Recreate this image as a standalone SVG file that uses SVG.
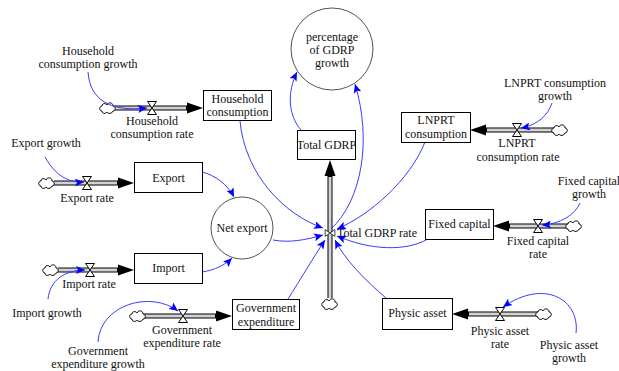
<svg xmlns="http://www.w3.org/2000/svg" width="619" height="371" viewBox="0 0 619 371">
  <style>
    text { font-family: "Liberation Serif", "Times New Roman", serif; font-size: 12px; fill: #111; text-anchor: middle; }
    .box { fill: #fff; stroke: #000; stroke-width: 1; }
    .aux { fill: #fff; stroke: #555; stroke-width: 1; }
    .pipe { fill: none; stroke: #000; stroke-width: 5; }
    .core { fill: none; stroke: #d2d2d2; stroke-width: 3; }
    .head { fill: #000; }
    .link { fill: none; stroke: #3b3bff; stroke-width: 1; marker-end: url(#blue); }
    .valve { fill: #fff; stroke: #000; stroke-width: 1; }
    .cloud { fill: #fff; stroke: #000; stroke-width: 1; }
  </style>
  <defs>
    <marker id="blue" markerUnits="userSpaceOnUse" markerWidth="10" markerHeight="8" refX="9" refY="4" orient="auto">
      <path d="M0,0 L9,4 L0,8 L2,4 Z" fill="#0000ff"/>
    </marker>
    <path id="cloud" class="cloud" d="M-6,3 C-9,3 -9,-2 -6,-2 C-6,-5 -2,-5 -1,-3 C0,-6 5,-6 5,-2 C8,-2 8,3 5,3 C4,6 0,6 -1,4 C-2,6 -6,6 -6,3 Z"/>
    <path id="valve" class="valve" d="M-4.5,-6.5 L4.5,-6.5 L-4.5,6.5 L4.5,6.5 Z"/>
  </defs>

  <!-- material flows: pipes, heads, clouds and valves -->
  <g id="flows">
    <!-- household consumption rate -->
    <line class="pipe" x1="114" y1="108" x2="188" y2="108"/>
    <line class="core" x1="114" y1="108" x2="186" y2="108"/>
    <polygon class="head" points="187,102.5 203,108 187,113.5"/>
    <use href="#cloud" x="108" y="108"/>
    <!-- export rate -->
    <line class="pipe" x1="54" y1="183" x2="119" y2="183"/>
    <line class="core" x1="54" y1="183" x2="117" y2="183"/>
    <polygon class="head" points="118,177.5 134,183 118,188.5"/>
    <use href="#cloud" x="47" y="183"/>
    <!-- import rate -->
    <line class="pipe" x1="58" y1="270" x2="119" y2="270"/>
    <line class="core" x1="58" y1="270" x2="117" y2="270"/>
    <polygon class="head" points="118,264.5 134,270 118,275.5"/>
    <use href="#cloud" x="51" y="270"/>
    <!-- government expenditure rate -->
    <line class="pipe" x1="144" y1="316" x2="217" y2="316"/>
    <line class="core" x1="144" y1="316" x2="215" y2="316"/>
    <polygon class="head" points="216,310.5 232,316 216,321.5"/>
    <use href="#cloud" x="138" y="316"/>
    <!-- LNPRT consumption rate -->
    <line class="pipe" x1="554" y1="130" x2="485" y2="130"/>
    <line class="core" x1="554" y1="130" x2="487" y2="130"/>
    <polygon class="head" points="486,124.5 470,130 486,135.5"/>
    <use href="#cloud" x="560" y="130"/>
    <!-- fixed capital rate -->
    <line class="pipe" x1="568" y1="226" x2="508" y2="226"/>
    <line class="core" x1="568" y1="226" x2="510" y2="226"/>
    <polygon class="head" points="509,220.5 493,226 509,231.5"/>
    <use href="#cloud" x="574" y="226"/>
    <!-- physic asset rate -->
    <line class="pipe" x1="538" y1="314" x2="467" y2="314"/>
    <line class="core" x1="538" y1="314" x2="469" y2="314"/>
    <polygon class="head" points="468,308.5 452,314 468,319.5"/>
    <use href="#cloud" x="544" y="314"/>
    <!-- total GDRP rate (vertical) -->
    <line class="pipe" x1="330" y1="298" x2="330" y2="175"/>
    <line class="core" x1="330" y1="298" x2="330" y2="177"/>
    <polygon class="head" points="324.5,176 330,160 335.5,176"/>
    <use href="#cloud" x="330" y="304"/>
  </g>

  <!-- information links -->
  <g id="connectors">
    <path class="link" d="M88,72 C90,100 110,112 147,108"/>
    <path class="link" d="M45,157 C55,175 68,183 84,182"/>
    <path class="link" d="M48,299 C50,280 65,270 85,270"/>
    <path class="link" d="M98,342 C100,305 150,290 178,311"/>
    <path class="link" d="M202,172 C215,175 228,185 234,197"/>
    <path class="link" d="M202,272 C215,270 225,265 232,258"/>
    <path class="link" d="M240,121 C245,175 285,215 323,228"/>
    <path class="link" d="M273,240 C290,243 305,240 323,235"/>
    <path class="link" d="M288,299 C300,280 315,255 325,240"/>
    <path class="link" d="M386,298 C365,280 345,260 335,240"/>
    <path class="link" d="M428,239 C405,252 370,250 337,236"/>
    <path class="link" d="M425,142 C410,180 370,215 337,229"/>
    <path class="link" d="M331,229 C362,200 372,140 355,84"/>
    <path class="link" d="M301,130 C288,115 287,92 297,72"/>
    <path class="link" d="M552,103 C548,115 538,125 521,128"/>
    <path class="link" d="M580,203 C575,215 560,224 542,225"/>
    <path class="link" d="M576,333 C580,300 545,278 503,307"/>
  </g>

  <!-- valves with their labels -->
  <g id="household-consumption-rate">
    <use href="#valve" x="152" y="108"/>
    <text x="152" y="125">Household</text>
    <text x="152" y="138">consumption rate</text>
  </g>
  <g id="export-rate">
    <use href="#valve" x="87" y="183"/>
    <text x="87" y="202">Export rate</text>
  </g>
  <g id="import-rate">
    <use href="#valve" x="90" y="270"/>
    <text x="89" y="288">Import rate</text>
  </g>
  <g id="government-expenditure-rate">
    <use href="#valve" x="183" y="316"/>
    <text x="182" y="334">Government</text>
    <text x="182" y="347">expenditure rate</text>
  </g>
  <g id="lnprt-consumption-rate">
    <use href="#valve" x="517" y="130"/>
    <text x="517" y="147">LNPRT</text>
    <text x="518" y="161">consumption rate</text>
  </g>
  <g id="fixed-capital-rate">
    <use href="#valve" x="538" y="226"/>
    <text x="538" y="245">Fixed capital</text>
    <text x="538" y="258">rate</text>
  </g>
  <g id="physic-asset-rate">
    <use href="#valve" x="500" y="314"/>
    <text x="500" y="335">Physic asset</text>
    <text x="500" y="348">rate</text>
  </g>
  <g id="total-gdrp-rate">
    <use href="#valve" transform="translate(330 233) rotate(90) scale(0.75)"/>
    <text x="337" y="237" style="text-anchor:start">Total GDRP rate</text>
  </g>

  <!-- stocks -->
  <g id="household-consumption">
    <rect class="box" x="203.5" y="90.5" width="68" height="30"/>
    <text x="237.5" y="103">Household</text>
    <text x="237.5" y="116">consumption</text>
  </g>
  <g id="export">
    <rect class="box" x="134.5" y="162.5" width="68" height="30"/>
    <text x="168.5" y="182">Export</text>
  </g>
  <g id="import">
    <rect class="box" x="134.5" y="253.5" width="68" height="30"/>
    <text x="168.5" y="272">Import</text>
  </g>
  <g id="government-expenditure">
    <rect class="box" x="232.5" y="299.5" width="67" height="30"/>
    <text x="266" y="312">Government</text>
    <text x="266" y="326">expenditure</text>
  </g>
  <g id="total-gdrp">
    <rect class="box" x="297.5" y="130.5" width="58" height="29"/>
    <text x="326.5" y="149">Total GDRP</text>
  </g>
  <g id="lnprt-consumption">
    <rect class="box" x="401.5" y="112.5" width="69" height="30"/>
    <text x="436" y="124">LNPRT</text>
    <text x="436" y="138">consumption</text>
  </g>
  <g id="fixed-capital">
    <rect class="box" x="425.5" y="209.5" width="68" height="30"/>
    <text x="459.5" y="228">Fixed capital</text>
  </g>
  <g id="physic-asset">
    <rect class="box" x="382.5" y="298.5" width="70" height="31"/>
    <text x="417.5" y="317">Physic asset</text>
  </g>

  <!-- auxiliaries -->
  <g id="net-export">
    <circle class="aux" cx="242" cy="228" r="31"/>
    <text x="242" y="232">Net export</text>
  </g>
  <g id="percentage-of-gdrp-growth">
    <circle class="aux" cx="332" cy="49" r="41"/>
    <text x="332" y="41">percentage</text>
    <text x="332" y="54">of GDRP</text>
    <text x="332" y="67">growth</text>
  </g>

  <!-- constants -->
  <g id="household-consumption-growth">
    <text x="88" y="55">Household</text>
    <text x="88" y="68">consumption growth</text>
  </g>
  <g id="export-growth">
    <text x="46" y="147">Export growth</text>
  </g>
  <g id="import-growth">
    <text x="47" y="317">Import growth</text>
  </g>
  <g id="government-expenditure-growth">
    <text x="98" y="355">Government</text>
    <text x="98" y="368">expenditure growth</text>
  </g>
  <g id="lnprt-consumption-growth">
    <text x="555" y="87">LNPRT consumption</text>
    <text x="555" y="100">growth</text>
  </g>
  <g id="fixed-capital-growth">
    <text x="589" y="185">Fixed capital</text>
    <text x="589" y="198">growth</text>
  </g>
  <g id="physic-asset-growth">
    <text x="569" y="349">Physic asset</text>
    <text x="569" y="362">growth</text>
  </g>
</svg>
